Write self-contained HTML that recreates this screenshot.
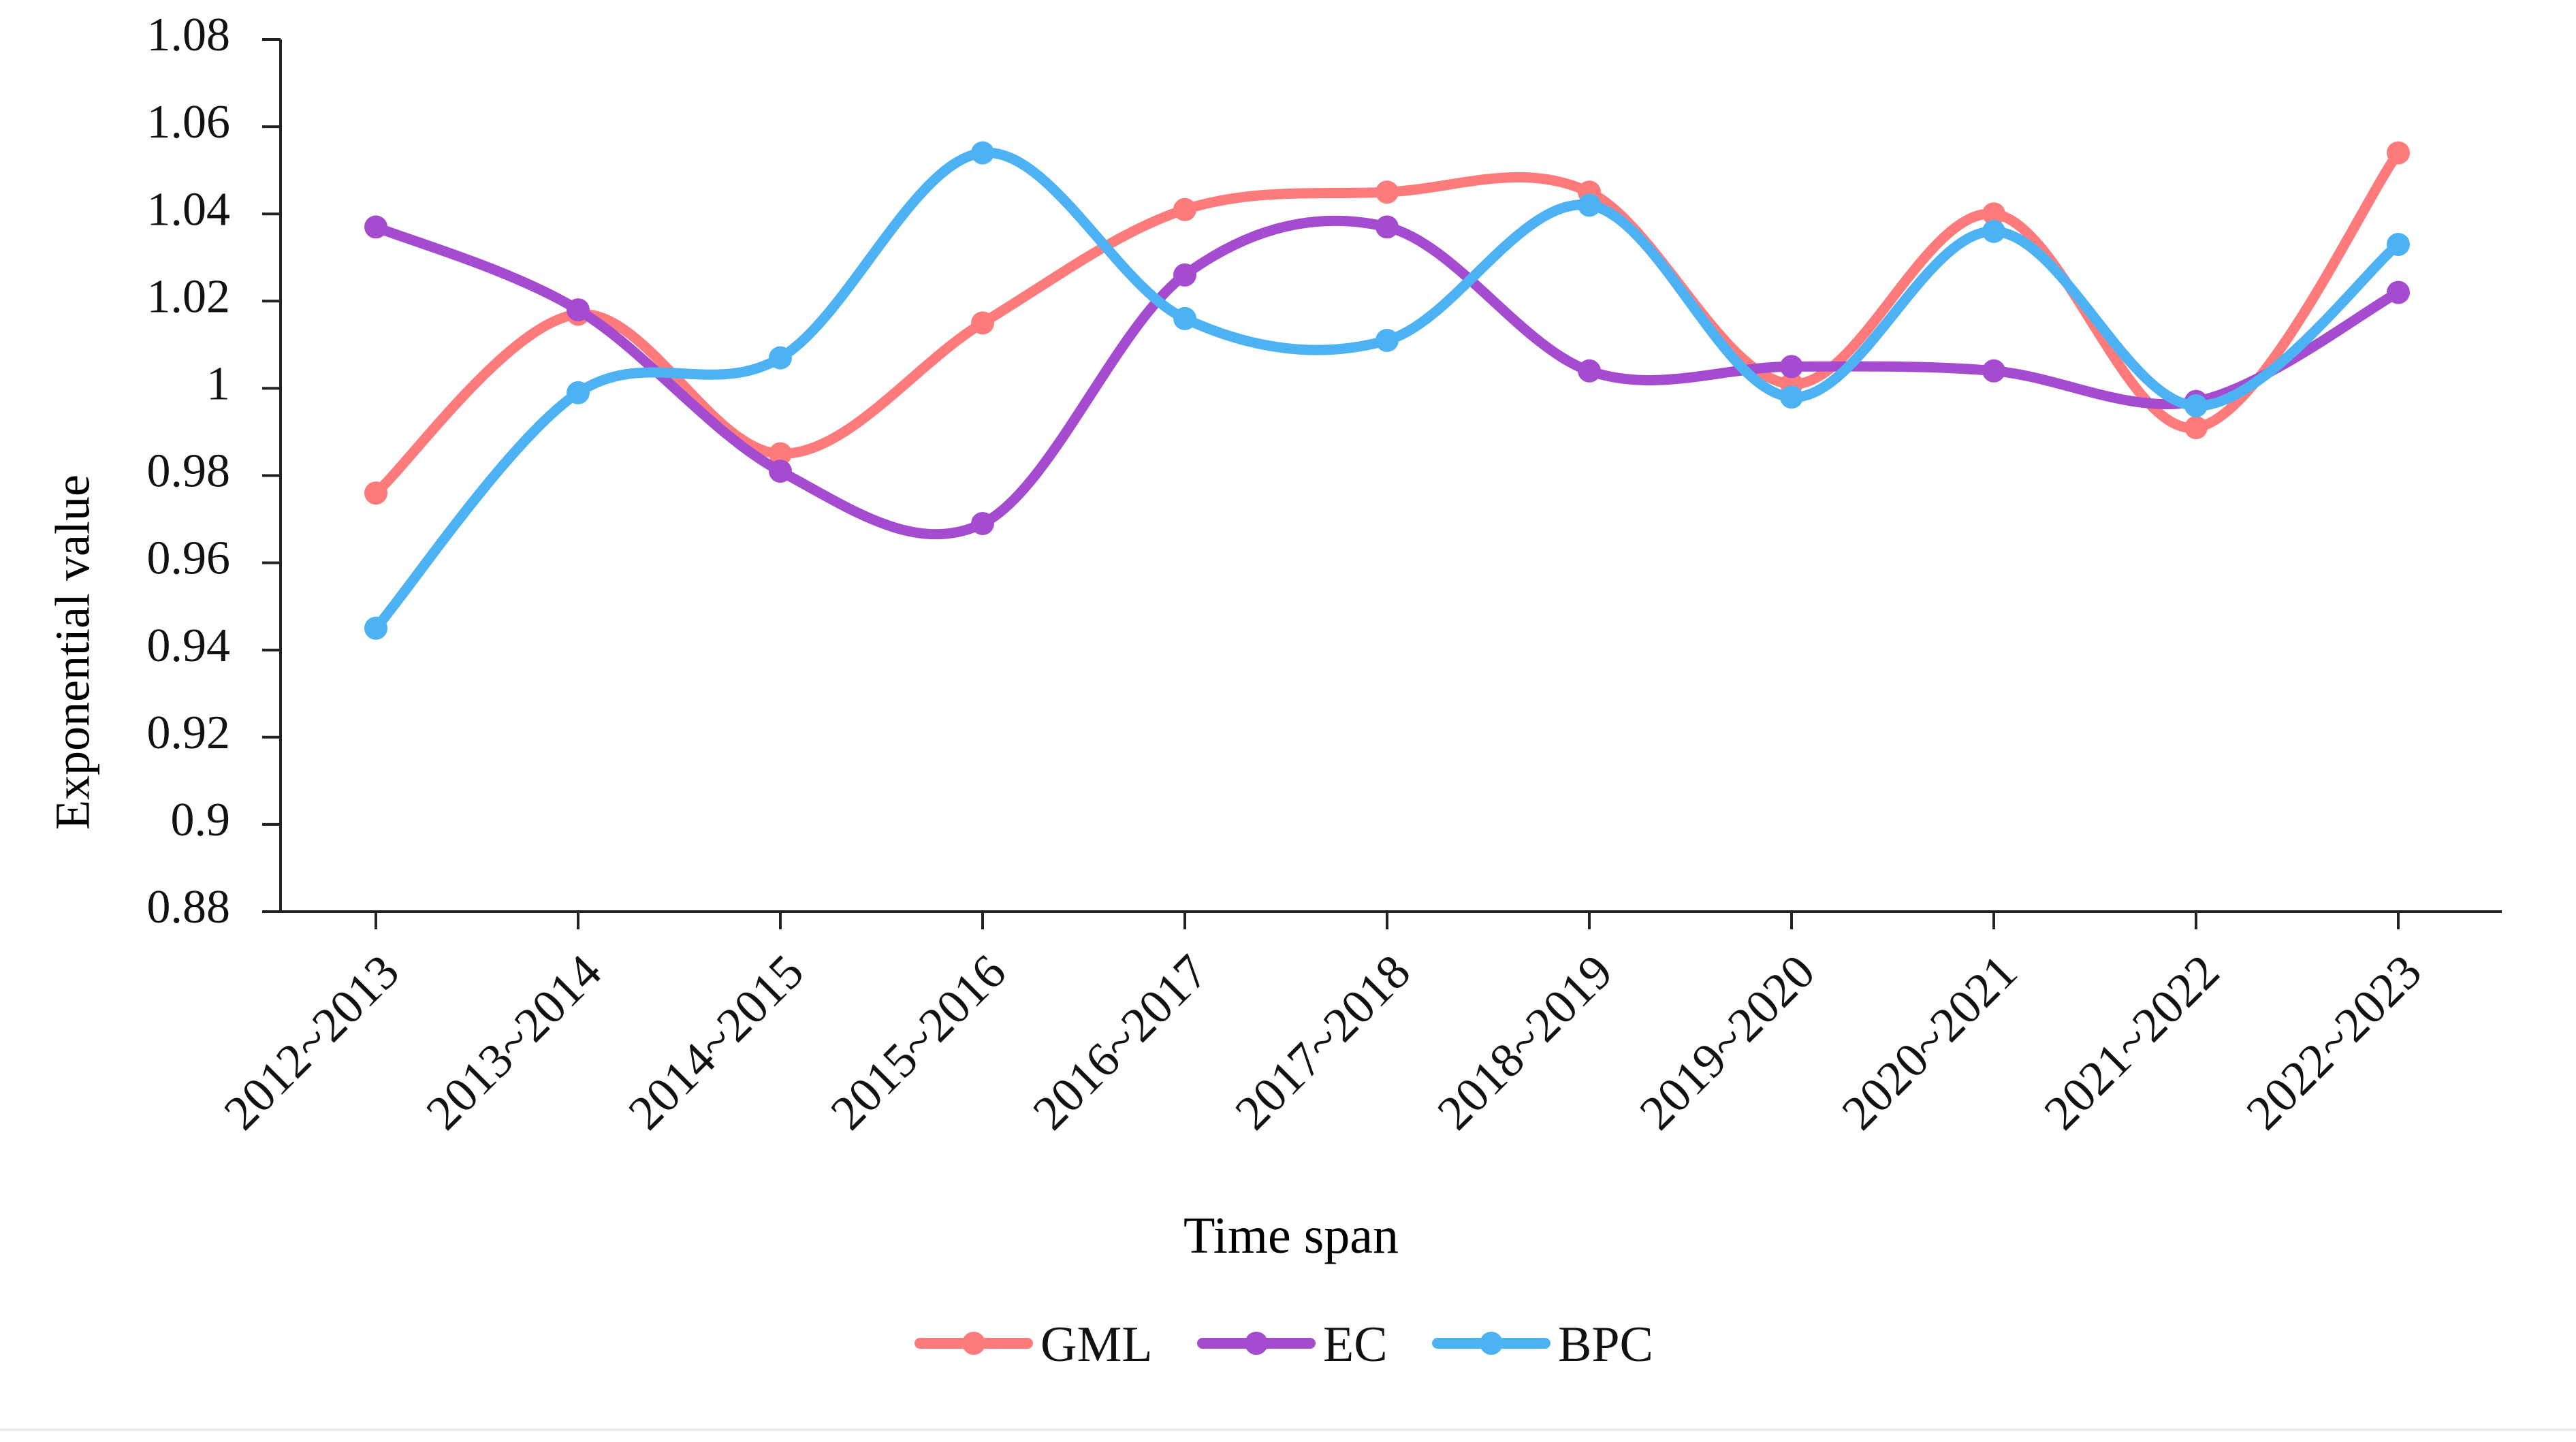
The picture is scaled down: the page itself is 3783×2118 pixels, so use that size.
<!DOCTYPE html>
<html><head><meta charset="utf-8"><style>
html,body{margin:0;padding:0;background:#fff;}
svg{display:block;font-family:"Liberation Serif",serif;}
</style></head><body>
<svg id="chart" width="3783" height="2118" viewBox="0 0 3783 2118">
<rect x="0" y="0" width="3783" height="2118" fill="#fff"/>
<line x1="0" y1="2100" x2="3783" y2="2100" stroke="#e6e6e6" stroke-width="3"/>
<g id="grid"></g>
<g id="series"></g>
<text x="114" y="958" font-size="72" text-anchor="middle" transform="rotate(-90 114 958)" dominant-baseline="middle">Exponential value</text>
<text x="1896" y="1840" font-size="76" text-anchor="middle">Time span</text>
<g id="legend"></g>
</svg>
<script>
const categories = ["2012~2013","2013~2014","2014~2015","2015~2016","2016~2017","2017~2018","2018~2019","2019~2020","2020~2021","2021~2022","2022~2023"];
const gmlValues = [0.976,1.017,0.985,1.015,1.041,1.045,1.045,1.001,1.040,0.991,1.054];
const ecValues  = [1.037,1.018,0.981,0.969,1.026,1.037,1.004,1.005,1.004,0.997,1.022];
const bpcValues = [0.945,0.999,1.007,1.054,1.016,1.011,1.042,0.998,1.036,0.996,1.033];
const yTicks = [0.88,0.9,0.92,0.94,0.96,0.98,1,1.02,1.04,1.06,1.08];
const yTickLabels = ["0.88","0.9","0.92","0.94","0.96","0.98","1","1.02","1.04","1.06","1.08"];
const seriesNames = ["GML","EC","BPC"];
const seriesColors = ["#ff7b7b","#a44bd0","#4cb2f4"];

const NS="http://www.w3.org/2000/svg";
const X0=412, X1=3674, Y0=1339, Y1=58;
const firstX=552, stepX=297;
function xScale(i){return firstX+i*stepX;}
function yScale(v){return Y0-(v-0.88)/(1.08-0.88)*(Y0-Y1);}
function mk(tag,attrs,parent){const e=document.createElementNS(NS,tag);for(const k in attrs)e.setAttribute(k,attrs[k]);parent.appendChild(e);return e;}
const grid=document.getElementById('grid');
let e;
e=mk('line',{x1:X0,y1:Y1,x2:X0,y2:Y0,stroke:'#222','stroke-width':4},grid);


e=mk('line',{x1:X0-2,y1:Y0,x2:X1,y2:Y0,stroke:'#222','stroke-width':4},grid);


yTicks.forEach((v,i)=>{
  const y=yScale(v);
  let t=mk('line',{x1:X0-27,y1:y,x2:X0,y2:y,stroke:'#222','stroke-width':4},grid);
  
  
  let l=mk('text',{x:338,y:y,'font-size':70,'text-anchor':'end','dominant-baseline':'middle',fill:'#111'},grid);
  l.textContent=yTickLabels[i];
  
  
});
categories.forEach((c,i)=>{
  const x=xScale(i);
  let t=mk('line',{x1:x,y1:Y0,x2:x,y2:Y0+26,stroke:'#222','stroke-width':4},grid);
  
  
  const ax=x+38, ay=1432;
  let l=mk('text',{x:ax,y:ay,'font-size':72,'text-anchor':'end',fill:'#111',transform:`rotate(-45 ${ax} ${ay})`},grid);
  l.textContent=c;
  
  
});
function pathFor(vals){
  const p=vals.map((v,i)=>[xScale(i),yScale(v)]);
  let d=`M${p[0][0]},${p[0][1]}`;
  for(let i=0;i<p.length-1;i++){
    const p0=p[i-1]||p[i], p1=p[i], p2=p[i+1], p3=p[i+2]||p[i+1];
    const c1=[p1[0]+(p2[0]-p0[0])/6, p1[1]+(p2[1]-p0[1])/6];
    const c2=[p2[0]-(p3[0]-p1[0])/6, p2[1]-(p3[1]-p1[1])/6];
    d+=` C${c1[0]},${c1[1]} ${c2[0]},${c2[1]} ${p2[0]},${p2[1]}`;
  }
  return d;
}
const sg=document.getElementById('series');
[gmlValues,ecValues,bpcValues].forEach((vals,s)=>{
  const g=mk('g',{},sg);
  
  
  const ln=mk('path',{d:pathFor(vals),fill:'none',stroke:seriesColors[s],'stroke-width':15,'stroke-linecap':'round'},g);
  
  
  vals.forEach((v,i)=>{
    const c=mk('circle',{cx:xScale(i),cy:yScale(v),r:17,fill:seriesColors[s]},g);
    
    
  });
});
const lg=document.getElementById('legend');
const legX=[1343,1758,2103], legY=1973;
seriesNames.forEach((n,s)=>{
  const g=mk('g',{},lg);
  
  
  mk('line',{x1:legX[s]+8,y1:legY,x2:legX[s]+166,y2:legY,stroke:seriesColors[s],'stroke-width':16,'stroke-linecap':'round'},g);
  mk('circle',{cx:legX[s]+87,cy:legY,r:17,fill:seriesColors[s]},g);
  const t=mk('text',{x:legX[s]+185,y:legY+26,'font-size':74,fill:'#111'},g);
  t.textContent=n;
  
  
});
</script>
</body></html>
